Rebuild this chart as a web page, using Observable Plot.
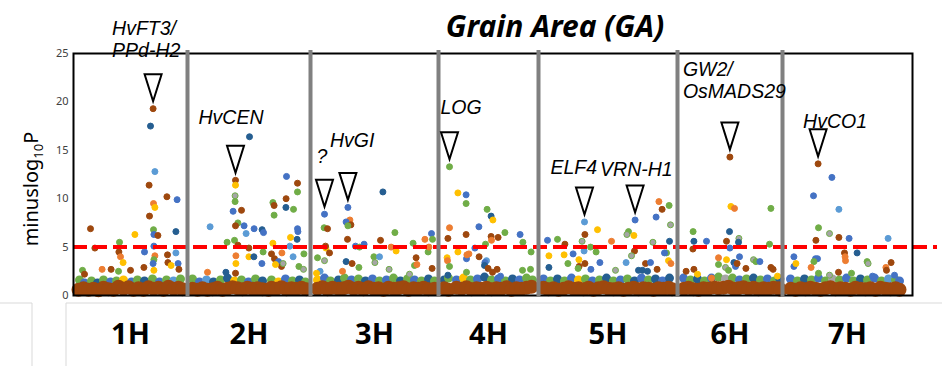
<!DOCTYPE html>
<html><head><meta charset="utf-8">
<script src="https://cdn.jsdelivr.net/npm/d3@7"></script>
<script src="https://cdn.jsdelivr.net/npm/@observablehq/plot@0.6"></script>
<style>body{margin:0;background:#fff;} #chart{width:945px;height:366px;}</style>
</head><body><div id="chart"></div>
<script>
// ---------- DATA ----------
const titleText = "Grain Area (GA)";
const chromosomes = ["1H","2H","3H","4H","5H","6H","7H"];
const chromLengthMb = [570,615,640,500,695,525,650];
const threshold = 5;
const yTicks = [0,5,10,15,20,25];
const colorKeys = ["br","db","bl","lb","gr","or","ye","gy"];
const colorValues = ["#9E480E","#255E91","#4472C4","#5B9BD5","#70AD47","#ED7D31","#FFC000","#A5A5A5"];

// significant / scattered markers: [position Mb, minuslog10P, colour key]
const snps1H = [[398,19.3,"br"],[385,17.5,"db"],[407,12.8,"lb"],[378,11.4,"br"],[467,10.2,"br"],[518,9.9,"bl"],[400,9.5,"or"],[407,9.1,"ye"],[380,8.2,"br"],[85,6.9,"br"],[307,6.3,"ye"],[400,6.8,"gr"],[402,6.3,"bl"],[422,6.2,"br"],[512,6.6,"db"],[230,5.5,"gr"],[107,4.9,"br"],[227,4.5,"br"],[355,4.5,"bl"],[402,5.1,"bl"],[512,4.4,"lb"],[235,4.0,"or"],[248,3.4,"ye"],[407,4.1,"or"],[470,4.2,"br"],[402,3.7,"gr"],[398,3.3,"bl"],[472,3.4,"br"],[523,3.3,"bl"],[488,3.1,"ye"],[402,2.6,"ye"],[352,2.9,"br"],[285,2.6,"br"],[143,2.7,"or"],[188,2.7,"br"],[225,2.5,"gr"],[45,2.6,"gr"],[55,2.2,"br"],[527,2.7,"br"]];
const snps2H = [[310,16.4,"db"],[240,11.9,"br"],[240,11.4,"ye"],[495,12.3,"bl"],[550,11.6,"br"],[550,10.7,"gr"],[238,10.3,"gy"],[238,9.7,"gr"],[427,9.6,"gr"],[433,9.3,"br"],[493,10.0,"br"],[433,8.3,"gr"],[492,9.1,"db"],[530,8.9,"gr"],[228,8.7,"bl"],[270,8.8,"br"],[252,7.5,"gr"],[113,7.1,"lb"],[240,7.2,"br"],[283,7.2,"bl"],[293,6.4,"lb"],[333,6.9,"bl"],[373,6.8,"db"],[380,6.5,"bl"],[550,6.9,"bl"],[552,6.6,"bl"],[515,6.0,"ye"],[548,5.8,"db"],[198,5.5,"gr"],[235,5.7,"gr"],[252,5.2,"br"],[427,5.4,"ye"],[512,5.1,"lb"],[242,4.1,"or"],[307,4.9,"br"],[378,4.5,"gr"],[307,4.0,"ye"],[420,4.3,"br"],[472,4.4,"or"],[528,4.0,"lb"],[242,3.3,"ye"],[332,4.0,"db"],[582,4.3,"gr"],[372,3.3,"bl"],[435,3.8,"br"],[455,3.5,"bl"],[470,3.0,"br"],[478,3.3,"gy"],[440,3.2,"ye"],[240,2.3,"br"],[557,3.0,"gr"],[580,2.7,"gy"],[192,2.4,"db"],[100,2.4,"or"]];
const snps3H = [[362,10.7,"db"],[70,8.4,"bl"],[187,9.1,"bl"],[197,7.8,"or"],[178,7.6,"bl"],[202,7.3,"br"],[187,7.2,"gr"],[68,7.0,"gr"],[85,6.9,"br"],[185,5.8,"br"],[422,6.5,"gr"],[350,5.7,"br"],[605,6.4,"bl"],[572,5.8,"or"],[610,5.8,"gr"],[513,5.4,"gr"],[77,4.9,"ye"],[75,5.1,"br"],[95,4.4,"br"],[225,5.1,"bl"],[245,5.0,"gr"],[268,5.3,"bl"],[428,4.6,"ye"],[403,5.0,"or"],[528,3.9,"br"],[588,4.5,"gr"],[592,5.0,"or"],[317,4.0,"gr"],[345,4.0,"lb"],[35,3.9,"gr"],[70,3.6,"gy"],[178,3.5,"db"],[208,3.3,"br"],[322,3.4,"gy"],[608,2.8,"br"],[520,3.1,"gr"],[532,3.2,"or"],[393,2.7,"gy"],[495,2.2,"gy"],[48,2.5,"lb"],[242,2.9,"gr"],[30,2.3,"ye"],[160,2.5,"or"]];
const snps4H = [[55,13.3,"gr"],[97,10.6,"ye"],[138,10.4,"bl"],[138,9.5,"gr"],[243,8.9,"gr"],[263,8.2,"db"],[272,7.8,"ye"],[55,7.0,"or"],[202,7.1,"bl"],[332,6.5,"gr"],[408,6.3,"bl"],[47,5.9,"br"],[138,6.3,"br"],[263,6.1,"br"],[265,5.7,"or"],[298,6.0,"br"],[422,5.5,"gr"],[182,4.9,"bl"],[235,5.3,"gr"],[97,4.5,"ye"],[152,4.3,"or"],[463,4.5,"gr"],[43,3.9,"ye"],[45,3.6,"or"],[203,4.0,"br"],[240,3.6,"lb"],[232,3.4,"bl"],[230,3.1,"db"],[140,3.8,"bl"],[142,4.2,"or"],[55,3.0,"gr"],[248,2.8,"br"],[140,2.4,"gr"],[47,2.1,"db"],[293,2.7,"br"],[420,2.6,"gr"],[460,2.7,"gr"],[270,2.4,"br"],[310,2.0,"bl"]];
const snps5H = [[483,7.8,"bl"],[230,7.6,"lb"],[602,9.7,"or"],[653,9.3,"gr"],[618,8.9,"br"],[588,8.1,"bl"],[660,7.3,"gy"],[295,6.8,"ye"],[450,6.6,"gr"],[442,6.3,"gy"],[477,6.2,"ye"],[232,6.3,"br"],[218,5.6,"gy"],[45,5.7,"bl"],[95,5.8,"gr"],[132,5.3,"br"],[365,5.6,"or"],[572,5.5,"gy"],[655,5.6,"db"],[288,4.5,"gr"],[228,4.6,"lb"],[260,5.0,"gr"],[480,4.6,"br"],[465,4.1,"gy"],[52,4.1,"ye"],[128,4.2,"ye"],[173,4.3,"bl"],[640,4.4,"gr"],[630,4.4,"bl"],[535,3.3,"br"],[202,3.7,"ye"],[147,3.3,"gr"],[307,3.4,"bl"],[438,3.4,"lb"],[560,3.4,"bl"],[650,3.6,"ye"],[662,3.3,"or"],[203,3.0,"br"],[198,2.8,"gr"],[52,2.9,"db"],[232,3.3,"br"],[385,2.6,"gy"],[262,2.7,"bl"],[500,2.6,"db"],[520,2.6,"db"],[545,2.5,"db"],[593,2.7,"br"]];
const snps6H = [[262,14.3,"br"],[267,9.2,"ye"],[285,9.0,"or"],[467,9.0,"gr"],[78,6.6,"gr"],[260,6.6,"db"],[82,5.6,"db"],[145,5.6,"bl"],[307,5.9,"gy"],[245,5.6,"br"],[305,5.5,"db"],[460,5.3,"gr"],[77,4.8,"br"],[262,4.9,"bl"],[205,3.9,"or"],[245,3.7,"ye"],[310,4.0,"bl"],[282,3.4,"db"],[290,3.0,"bl"],[298,3.3,"br"],[380,3.7,"gy"],[392,3.5,"gr"],[412,3.5,"bl"],[467,2.9,"br"],[478,2.7,"br"],[342,2.8,"br"],[43,2.5,"br"],[82,2.7,"br"],[100,2.2,"ye"],[170,1.8,"or"],[205,3.2,"gr"],[240,2.9,"gy"],[255,2.6,"gr"],[500,2.0,"ye"]];
const snps7H = [[178,13.6,"br"],[247,12.2,"bl"],[155,10.3,"bl"],[282,8.9,"lb"],[180,7.0,"gr"],[235,6.4,"gy"],[282,6.0,"br"],[333,5.9,"bl"],[528,5.9,"lb"],[167,5.7,"br"],[373,4.4,"db"],[310,4.4,"br"],[315,3.6,"or"],[313,4.0,"or"],[57,4.0,"bl"],[57,3.0,"bl"],[165,3.8,"bl"],[175,3.8,"bl"],[157,3.5,"gr"],[423,3.5,"gr"],[428,3.3,"gy"],[143,2.9,"or"],[543,3.4,"br"],[517,2.9,"or"],[520,2.6,"br"],[280,2.4,"br"],[67,3.3,"ye"],[180,2.3,"gr"],[235,2.1,"gy"],[345,2.3,"gr"],[450,2.0,"bl"],[560,2.1,"bl"]];

// dense low band of non-significant markers: [position Mb, minuslog10P]
const band1H = [[25,0.6],[50,0.75],[75,0.6],[100,0.7],[125,0.55],[150,0.8],[175,0.65],[200,0.6],[225,0.9],[250,0.7],[275,0.85],[300,0.6],[325,0.75],[350,0.6],[375,0.85],[400,0.7],[425,0.8],[450,0.6],[475,0.9],[500,0.7],[525,0.8],[545,0.65]];
const band2H = [[25,0.7],[50,0.6],[75,0.75],[100,0.6],[125,0.65],[150,0.8],[175,0.6],[200,0.7],[225,0.85],[250,0.75],[275,0.65],[300,0.8],[325,0.7],[350,0.75],[375,0.65],[405,0.6],[420,0.8],[445,0.7],[470,0.85],[495,0.65],[520,0.75],[545,0.7],[570,0.8],[595,0.65]];
const band3H = [[35,0.7],[60,0.85],[85,0.65],[110,0.8],[140,0.7],[165,0.75],[190,0.9],[215,0.7],[240,0.8],[265,0.65],[290,0.85],[315,0.7],[340,0.75],[365,0.6],[390,0.8],[415,0.7],[440,0.75],[465,0.85],[490,0.6],[515,0.75],[540,0.7],[565,0.8],[590,0.65],[620,0.7]];
const band4H = [[28,0.75],[50,0.6],[90,0.8],[115,0.7],[140,0.85],[165,0.65],[190,0.75],[215,0.7],[240,0.8],[265,0.65],[290,0.75],[315,0.7],[340,0.85],[365,0.6],[390,0.75],[415,0.7],[440,0.8],[465,0.9]];
const band5H = [[25,0.8],[50,0.65],[75,0.75],[100,0.6],[125,0.7],[150,0.85],[175,0.7],[200,0.75],[225,0.65],[250,0.8],[275,0.6],[300,0.75],[325,0.85],[350,0.7],[375,0.65],[400,0.75],[425,0.6],[450,0.7],[475,0.8],[500,0.65],[525,0.75],[550,0.7],[575,0.6],[600,0.75],[625,0.7],[650,0.8],[668,0.65]];
const band6H = [[32,0.7],[55,0.8],[80,0.65],[105,0.6],[130,0.75],[155,0.7],[180,0.85],[205,0.75],[230,0.8],[255,0.9],[280,0.7],[305,0.75],[330,0.85],[355,0.7],[380,0.8],[405,0.65],[430,0.75],[455,0.7],[480,0.8],[505,0.75],[515,0.6]];
const band7H = [[42,0.7],[65,0.6],[90,0.75],[115,0.65],[140,0.8],[165,0.7],[190,0.6],[215,0.75],[240,0.85],[265,0.65],[290,0.75],[315,0.7],[340,0.6],[365,0.8],[390,0.7],[415,0.65],[440,0.75],[465,0.6],[490,0.8],[515,0.7],[540,0.65],[565,0.75],[585,0.6]];

// coloured markers peeking out around the band: [position Mb, minuslog10P, colour key]
const fringe1H = [[30,1.6,"gr"],[55,1.3,"bl"],[90,1.5,"gr"],[120,1.3,"db"],[150,1.6,"gr"],[185,1.4,"bl"],[215,1.5,"gr"],[250,1.6,"ye"],[290,1.4,"bl"],[320,1.6,"gr"],[355,1.5,"db"],[395,1.7,"gr"],[430,1.4,"bl"],[465,1.6,"gr"],[500,1.5,"lb"],[535,1.7,"gr"]];
const fringe2H = [[25,1.7,"gr"],[60,1.4,"bl"],[95,1.6,"lb"],[130,1.4,"db"],[165,1.6,"gr"],[200,1.8,"db"],[235,1.5,"ye"],[270,1.6,"gr"],[305,1.4,"bl"],[340,1.7,"gr"],[375,1.5,"db"],[420,1.6,"gr"],[455,1.4,"ye"],[490,1.7,"bl"],[525,1.5,"gr"],[560,1.6,"db"],[590,1.4,"gr"]];
const fringe3H = [[35,1.6,"ye"],[70,1.8,"bl"],[100,1.5,"gr"],[140,1.6,"db"],[170,1.8,"gr"],[205,1.6,"bl"],[240,1.7,"gr"],[275,1.5,"db"],[310,1.7,"bl"],[345,1.5,"gr"],[380,1.6,"bl"],[415,1.8,"gr"],[450,1.5,"db"],[485,1.7,"gr"],[520,1.6,"bl"],[555,1.5,"gr"],[590,1.7,"db"],[620,1.5,"gr"]];
const fringe4H = [[28,1.6,"db"],[50,1.8,"gr"],[90,1.6,"bl"],[125,1.8,"ye"],[160,1.6,"gr"],[195,1.7,"bl"],[230,1.9,"db"],[265,1.6,"gr"],[300,1.7,"bl"],[335,1.5,"gr"],[370,1.7,"db"],[405,1.6,"bl"],[440,1.8,"gr"],[470,1.6,"gr"]];
const fringe5H = [[25,1.7,"bl"],[60,1.5,"gr"],[95,1.7,"db"],[130,1.5,"gr"],[165,1.8,"bl"],[200,1.6,"ye"],[235,1.7,"gr"],[270,1.5,"bl"],[305,1.6,"gr"],[340,1.8,"db"],[375,1.5,"gr"],[410,1.6,"bl"],[445,1.7,"gr"],[480,1.5,"db"],[515,1.8,"bl"],[550,1.6,"gr"],[585,1.7,"db"],[620,1.5,"bl"],[655,1.8,"db"]];
const fringe6H = [[30,1.8,"bl"],[65,1.6,"gr"],[100,1.7,"db"],[135,1.5,"gr"],[170,1.8,"bl"],[205,1.9,"gr"],[240,1.7,"gy"],[275,1.8,"gr"],[310,1.6,"bl"],[345,1.7,"gr"],[380,1.8,"db"],[415,1.6,"gr"],[450,1.7,"bl"],[485,1.5,"gr"],[512,1.7,"db"]];
const fringe7H = [[40,1.7,"bl"],[75,1.5,"gr"],[110,1.7,"db"],[145,1.6,"gr"],[180,1.8,"bl"],[215,1.5,"gr"],[250,1.7,"gy"],[285,1.6,"gr"],[320,1.8,"bl"],[355,1.5,"gr"],[390,1.7,"db"],[425,1.6,"gr"],[460,1.8,"bl"],[495,1.5,"gr"],[530,1.7,"lb"],[565,1.6,"gr"],[585,1.5,"bl"]];

// annotated candidate genes
const geneLabels = ["HvFT3/\nPPd-H2","HvCEN","?","HvGI","LOG","ELF4","VRN-H1","GW2/\nOsMADS29","HvCO1"];
const geneChrom  = ["1H","2H","3H","3H","4H","5H","5H","6H","7H"];
const genePosMb  = [398,240,70,187,55,230,483,262,178];
const geneLogP   = [19.3,11.9,8.4,9.1,13.3,7.6,7.8,14.3,13.6];

// ---------- LAYOUT (styling only) ----------
const labelOffsetPx = [[-41,-52],[-37,-56],[-8,-51],[-18,-60],[-9,-53],[-34,-48],[-35,-44],[-47,-59],[-15,-36]];
const W = 945, H = 366, mTop = 53, mBottom = 71, mLeft = 73, mRight = 33;

// ---------- BUILD ----------
const offsets = chromLengthMb.map((d, i) => d3.sum(chromLengthMb.slice(0, i)));
const total = d3.sum(chromLengthMb);
const cx = (c, p) => offsets[chromosomes.indexOf(c)] + p;
const snpSets = [snps1H, snps2H, snps3H, snps4H, snps5H, snps6H, snps7H];
const bandSets = [band1H, band2H, band3H, band4H, band5H, band6H, band7H];
const fringeSets = [fringe1H, fringe2H, fringe3H, fringe4H, fringe5H, fringe6H, fringe7H];
const snpRows = snpSets.flatMap((s, i) => s.map(([p, v, c]) => ({x: offsets[i] + p, y: v, color: c})));
const bandRows = bandSets.flatMap((s, i) => s.map(([p, v]) => ({x: offsets[i] + p, y: v})));
const fringeRows = fringeSets.flatMap((s, i) => s.map(([p, v, c]) => ({x: offsets[i] + p, y: v, color: c})));
const genes = geneLabels.map((g, i) => ({label: g, x: cx(geneChrom[i], genePosMb[i]), y: geneLogP[i]}));
const mids = chromosomes.map((c, i) => offsets[i] + chromLengthMb[i] / 2);
const boundaries = offsets.slice(1);

const downTriangle = {
  draw(ctx) { ctx.moveTo(0, 13.5); ctx.lineTo(-8.5, -13.5); ctx.lineTo(8.5, -13.5); ctx.closePath(); }
};

const plot = Plot.plot({
  width: W, height: H,
  marginTop: mTop, marginBottom: mBottom, marginLeft: mLeft, marginRight: mRight,
  x: {domain: [0, total], axis: null},
  y: {domain: [0, 25], axis: null},
  color: {domain: colorKeys, range: colorValues},
  style: {fontFamily: "'Noto Sans', sans-serif", background: "white", overflow: "visible"},
  marks: [
    Plot.dot(fringeRows, {x: "x", y: "y", fill: "color", r: 4.5}),
    Plot.dot(bandRows, {x: "x", y: "y", fill: colorValues[0], r: 7}),
    Plot.dot(snpRows, {x: "x", y: "y", fill: "color", stroke: d => d.color === "gy" ? "gr" : d.color, strokeWidth: 1, r: 3}),
    Plot.ruleY([threshold], {stroke: "#FF0000", strokeWidth: 4, strokeDasharray: "14,6", insetRight: -25}),
    Plot.frame({stroke: "black", strokeWidth: 2}),
    Plot.ruleX(boundaries, {stroke: "#808080", strokeWidth: 4, insetTop: -3, insetBottom: -2}),
    Plot.axisY(yTicks, {tickSize: 0, tickPadding: 5, fontSize: 11, label: null, color: "#404040"}),
    Plot.text(chromosomes, {x: mids, text: d => d, frameAnchor: "bottom", lineAnchor: "bottom", dy: 48, fontSize: 29, fontWeight: "bold", fill: "black"}),
    Plot.text([titleText], {text: d => d, frameAnchor: "top", lineAnchor: "bottom", dx: 62, dy: -17, fontSize: 30, fontWeight: "bold", fontStyle: "italic", fill: "black"}),
    Plot.dot(genes, {x: "x", y: "y", symbol: downTriangle, r: 1, fill: "white", stroke: "black", strokeWidth: 2, dy: -21}),
    ...genes.map((g, i) => Plot.text([g], {x: "x", y: "y", text: "label", dx: labelOffsetPx[i][0], dy: labelOffsetPx[i][1],
      textAnchor: "start", lineAnchor: "bottom", lineHeight: 1.12, fontSize: 19.5, fontStyle: "italic",
      fontFamily: "'Liberation Sans', Arial, sans-serif", fill: "black"}))
  ]
});

const svg = d3.select(plot);
// table-like borders below the plot
const yb = H - mBottom + 8;
const deco = svg.insert("g", ":first-child").attr("stroke", "#D9D9D9").attr("fill", "none").attr("stroke-width", 1);
deco.append("path").attr("d", `M0,${yb}H32V${H}`);
deco.append("path").attr("d", `M66,${H}V${yb}H942`);
// y-axis title with subscript
const yl = svg.append("text").attr("transform", `translate(38,189) rotate(-90)`)
  .attr("text-anchor", "middle").attr("font-size", 20).attr("fill", "black");
yl.append("tspan").text("minuslog");
yl.append("tspan").attr("font-size", 13).attr("dy", 5).text("10");
yl.append("tspan").attr("dy", -5).text("P");

document.getElementById("chart").appendChild(plot);
</script></body></html>
